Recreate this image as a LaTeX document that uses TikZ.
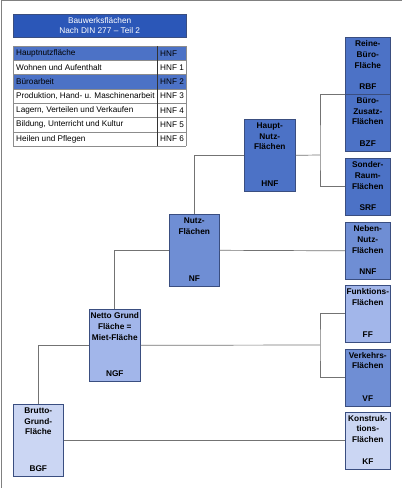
\documentclass[tikz,border=0pt]{standalone}
\usepackage{fontspec}
\setmainfont{Liberation Sans}
\usepackage{xcolor}
\usetikzlibrary{positioning}

\definecolor{titelblau}{HTML}{2B57B8}
\definecolor{stufeA}{HTML}{4C72C6}
\definecolor{stufeB}{HTML}{6F8ED4}
\definecolor{stufeC}{HTML}{A2B6EA}
\definecolor{stufeD}{HTML}{CBD6F3}
\definecolor{rahmen}{HTML}{3A4E80}

\tikzset{
  flaeche/.style={draw=rahmen, line width=0.6pt, anchor=north west, inner sep=0pt,
    minimum width=45pt, minimum height=57pt},
  breit/.style={minimum width=51pt, minimum height=72pt},
  oben/.style={anchor=north, yshift=-3.5pt, align=center, inner sep=0pt,
    font=\fontsize{8.3}{10.7}\selectfont\bfseries},
  unten/.style={anchor=south, yshift=4.5pt, inner sep=0pt,
    font=\fontsize{8.3}{10}\selectfont\bfseries},
  verbindung/.style={draw=black!55, line width=0.7pt},
  zeile/.style={anchor=west, inner sep=0pt, font=\fontsize{8.2}{10}\selectfont}
}

\begin{document}
\begin{tikzpicture}[x=1pt,y=-1pt]

  \useasboundingbox (0,0) rectangle (402,488);
  % frame
  \draw[black!50, line width=0.8pt] (1,488) -- (1,0.5) -- (402,0.5);

  % title and table
  \node[fill=titelblau, draw=rahmen, anchor=north west, minimum width=173pt, minimum height=23pt,
        inner sep=0pt, align=center, text=white, font=\fontsize{8.3}{10.5}\selectfont]
        (titel) at (13,14) {Bauwerksflächen\\Nach DIN 277 -- Teil 2};

  \fill[stufeA] (13,46) rectangle (186,60.3);
  \fill[stufeA] (13,74.6) rectangle (186,88.9);
  \foreach \i in {0,...,7}
    \draw[black!45, line width=0.6pt] (13,46+14.3*\i) -- (186,46+14.3*\i);
  \draw[black!45, line width=0.6pt] (13,46) -- (13,146.1) (186,46) -- (186,146.1);
  \draw[black!80, line width=0.6pt] (157,46) -- (157,146.1);

  \foreach [count=\i from 0] \t/\k in {Hauptnutzfläche/HNF, Wohnen und Aufenthalt/HNF 1,
      Büroarbeit/HNF 2, {Produktion, Hand- u. Maschinenarbeit}/HNF 3,
      {Lagern, Verteilen und Verkaufen}/HNF 4, {Bildung, Unterricht und Kultur}/HNF 5,
      Heilen und Pflegen/HNF 6} {
    \node[zeile] (txt\i) at (16,53.2+14.3*\i) {\t};
    \node[zeile] (hnf\i) at (160,53.2+14.3*\i) {\k};
  }

  % boxes, right column
  \node[flaeche, fill=stufeA,
        label={[oben]north:{Reine-\\Büro-\\Fläche}}, label={[unten]south:RBF}] (rbf) at (345,37) {};
  \node[flaeche, fill=stufeA,
        label={[oben]north:{Büro-\\Zusatz-\\Flächen}}, label={[unten]south:BZF}] (bzf) at (345,94) {};
  \node[flaeche, fill=stufeA,
        label={[oben]north:{Sonder-\\Raum-\\Flächen}}, label={[unten]south:SRF}] (srf) at (345,158) {};
  \node[flaeche, fill=stufeB,
        label={[oben]north:{Neben-\\Nutz-\\Flächen}}, label={[unten]south:NNF}] (nnf) at (345,222) {};
  \node[flaeche, fill=stufeC,
        label={[oben]north:{Funktions-\\Flächen}}, label={[unten]south:FF}] (ff) at (345,285) {};
  \node[flaeche, fill=stufeB,
        label={[oben]north:{Verkehrs-\\Flächen}}, label={[unten]south:VF}] (vf) at (345,348.5) {};
  \node[flaeche, fill=stufeD,
        label={[oben]north:{Konstruk-\\tions-\\Flächen}}, label={[unten]south:KF}] (kf) at (345,411.5) {};

  % boxes, tree
  \node[flaeche, breit, fill=stufeA,
        label={[oben]north:{Haupt-\\Nutz-\\Flächen}}, label={[unten]south:HNF}] (hnf) at (244,119) {};
  \node[flaeche, breit, minimum width=50pt, fill=stufeB,
        label={[oben]north:{Nutz-\\Flächen}}, label={[unten]south:NF}] (nf) at (169,214) {};
  \node[flaeche, breit, fill=stufeC,
        label={[oben]north:{Netto Grund\\Fläche =\\Miet-Fläche}}, label={[unten]south:NGF}] (ngf) at (89,309) {};
  \node[flaeche, breit, minimum width=50pt, fill=stufeD,
        label={[oben]north:{Brutto-\\Grund-\\Fläche}}, label={[unten]south:BGF}] (bgf) at (13,404) {};

  % connectors
  \coordinate (hnfbus) at (320,155);
  \coordinate (ngfbus) at (320,345);
  \draw[verbindung] (hnf.east) -- (hnfbus);
  \draw[verbindung] (rbf.south west) -| (hnfbus) |- (srf.west);
  \draw[verbindung] (nf.north) |- (hnf.west);
  \draw[verbindung] (nf.east) -- (nnf.west);
  \draw[verbindung] (nf.west) -| (ngf.north);
  \draw[verbindung] (ngf.east) -- (ngfbus);
  \draw[verbindung] (ff.west) -| (ngfbus) |- (vf.west);
  \draw[verbindung] (ngf.west) -| (bgf.north);
  \draw[verbindung] (bgf.east) -- (kf.west);

\end{tikzpicture}
\end{document}
